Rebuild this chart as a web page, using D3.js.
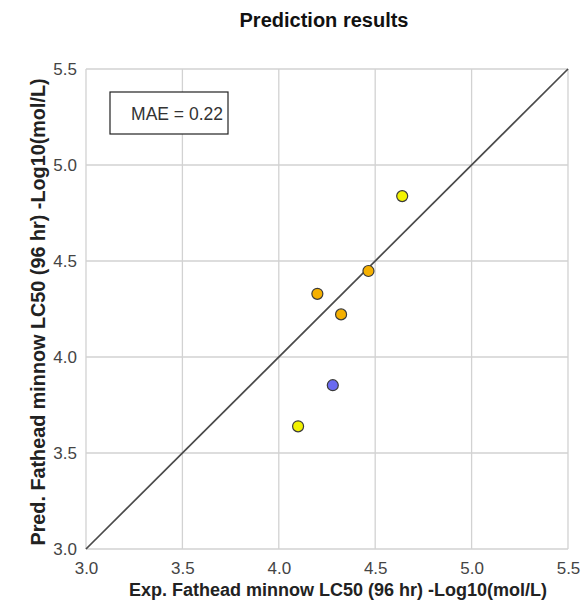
<!DOCTYPE html>
<html>
<head>
<meta charset="utf-8">
<script src="https://cdn.jsdelivr.net/npm/d3@7"></script>
<style>
  body { margin: 0; background: #fff; }
  text { font-family: "Liberation Sans", Arial, sans-serif; }
</style>
</head>
<body>
<svg id="chart"></svg>
<script>
const expValues  = [4.64, 4.465, 4.20, 4.323, 4.28, 4.10]
const predValues = [4.838, 4.448, 4.329, 4.222, 3.853, 3.639]
const pointColors = ["#f2f200", "#f5b000", "#f5b000", "#f5b000", "#6a6af0", "#f2f200"]
const tickValues = [3.0, 3.5, 4.0, 4.5, 5.0, 5.5]
const maeText = "MAE = 0.22"

const width = 582, height = 604
const margin = { top: 69, right: 14, bottom: 55, left: 86 }

const svg = d3.select("#chart")
    .attr("width", width)
    .attr("height", height)

const x = d3.scaleLinear().domain([3, 5.5]).range([margin.left, width - margin.right])
const y = d3.scaleLinear().domain([3, 5.5]).range([height - margin.bottom, margin.top])

// gridlines
svg.append("g")
    .selectAll("line")
    .data(tickValues)
    .enter().append("line")
    .attr("x1", d => x(d)).attr("x2", d => x(d))
    .attr("y1", y(3)).attr("y2", y(5.5))
    .attr("stroke", "#d2d2d2").attr("stroke-width", 1.3)

svg.append("g")
    .selectAll("line")
    .data(tickValues)
    .enter().append("line")
    .attr("x1", x(3)).attr("x2", x(5.5))
    .attr("y1", d => y(d)).attr("y2", d => y(d))
    .attr("stroke", "#d2d2d2").attr("stroke-width", 1.3)

// axes (labels only)
const xAxis = svg.append("g")
    .attr("transform", `translate(0,${y(3)})`)
    .call(d3.axisBottom(x).tickValues(tickValues).tickFormat(d3.format(".1f")).tickSize(0).tickPadding(13))
xAxis.select(".domain").remove()
xAxis.selectAll("text").attr("font-size", 17).attr("fill", "#444")

const yAxis = svg.append("g")
    .attr("transform", `translate(${x(3)},0)`)
    .call(d3.axisLeft(y).tickValues(tickValues).tickFormat(d3.format(".1f")).tickSize(0).tickPadding(9))
yAxis.select(".domain").remove()
yAxis.selectAll("text").attr("font-size", 17).attr("fill", "#444")

// diagonal y = x
svg.append("line")
    .attr("x1", x(3)).attr("y1", y(3))
    .attr("x2", x(5.5)).attr("y2", y(5.5))
    .attr("stroke", "#4a4a4a").attr("stroke-width", 1.7)

// points
svg.append("g")
    .selectAll("circle")
    .data(expValues)
    .enter().append("circle")
    .attr("cx", d => x(d))
    .attr("cy", (d, i) => y(predValues[i]))
    .attr("r", 5.5)
    .attr("fill", (d, i) => pointColors[i])
    .attr("stroke", "#3a3a3a")
    .attr("stroke-width", 1.2)

// MAE box
svg.append("rect")
    .attr("x", 110).attr("y", 92)
    .attr("width", 118).attr("height", 42)
    .attr("fill", "#fff").attr("stroke", "#222").attr("stroke-width", 1.2)
svg.append("text")
    .attr("x", 223).attr("y", 120)
    .attr("text-anchor", "end")
    .attr("font-size", 17.5)
    .attr("fill", "#333")
    .text(maeText)

// title
svg.append("text")
    .attr("x", 324).attr("y", 27)
    .attr("text-anchor", "middle")
    .attr("font-size", 20).attr("font-weight", "bold")
    .attr("fill", "#111")
    .text("Prediction results")

// axis titles
svg.append("text")
    .attr("x", 338).attr("y", 596)
    .attr("text-anchor", "middle")
    .attr("font-size", 18).attr("font-weight", "bold")
    .attr("fill", "#222")
    .text("Exp. Fathead minnow LC50 (96 hr) -Log10(mol/L)")

svg.append("text")
    .attr("transform", `translate(45,${(y(3) + y(5.5)) / 2 + 3}) rotate(-90)`)
    .attr("text-anchor", "middle")
    .attr("font-size", 19.8).attr("font-weight", "bold")
    .attr("fill", "#222")
    .text("Pred. Fathead minnow LC50 (96 hr) -Log10(mol/L)")
</script>
</body>
</html>
